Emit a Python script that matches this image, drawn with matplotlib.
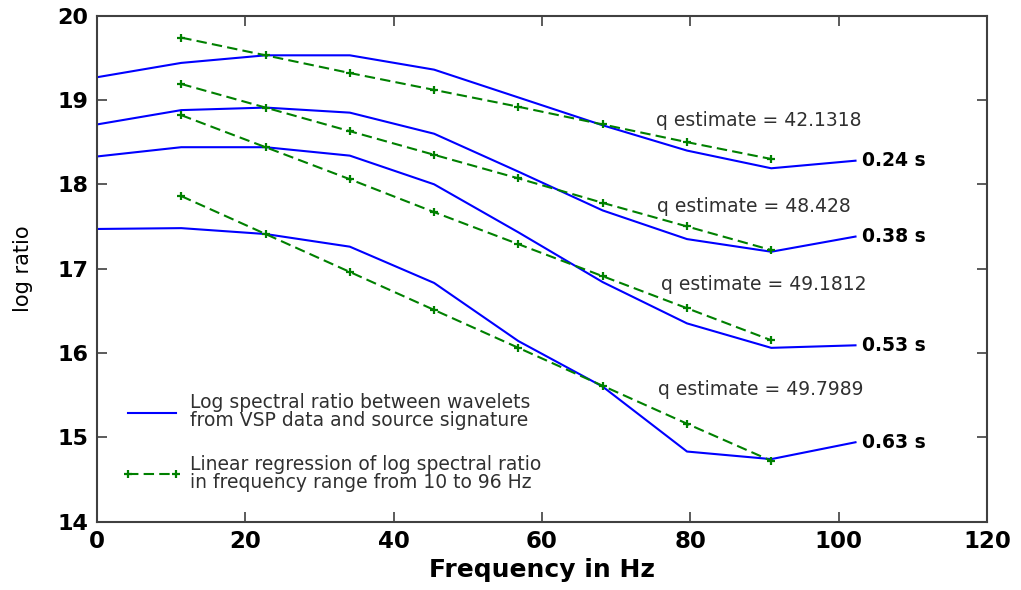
import matplotlib
matplotlib.use("Agg")
import matplotlib.pyplot as plt

# ---------------- data ----------------
freq = [0, 11.36, 22.73, 34.09, 45.45, 56.82, 68.18, 79.55, 90.91, 102.27]
fit_freq = [11.36, 22.73, 34.09, 45.45, 56.82, 68.18, 79.55, 90.91]

ratio_024 = [19.27, 19.44, 19.53, 19.53, 19.36, 19.03, 18.70, 18.40, 18.19, 18.28]
ratio_038 = [18.71, 18.88, 18.91, 18.85, 18.60, 18.15, 17.69, 17.35, 17.20, 17.38]
ratio_053 = [18.33, 18.44, 18.44, 18.34, 18.00, 17.43, 16.84, 16.35, 16.06, 16.09]
ratio_063 = [17.47, 17.48, 17.41, 17.26, 16.83, 16.14, 15.60, 14.83, 14.74, 14.94]

fit_024 = [19.74, 19.53, 19.32, 19.12, 18.92, 18.71, 18.50, 18.30]
fit_038 = [19.19, 18.91, 18.63, 18.35, 18.07, 17.78, 17.50, 17.22]
fit_053 = [18.82, 18.44, 18.06, 17.67, 17.29, 16.91, 16.53, 16.15]
fit_063 = [17.86, 17.41, 16.96, 16.51, 16.06, 15.61, 15.16, 14.72]

time_labels = ["0.24 s", "0.38 s", "0.53 s", "0.63 s"]
q_values = ["42.1318", "48.428", "49.1812", "49.7989"]

xticks = [0, 20, 40, 60, 80, 100, 120]
yticks = [14, 15, 16, 17, 18, 19, 20]

# ---------------- styling ----------------
plt.rcParams['font.family'] = ['DejaVu Sans']
BLUE = '#0000ff'
GREEN = '#008000'
AXC = '#404040'

fig = plt.figure(figsize=(10.21, 5.90), dpi=100)
ax = fig.add_axes([0.095, 0.1161, 0.8717, 0.8573])

ratios = [ratio_024, ratio_038, ratio_053, ratio_063]
fits = [fit_024, fit_038, fit_053, fit_063]
q_pos = [(75.4, 18.76), (75.55, 17.74), (76.1, 16.81), (75.6, 15.57)]

for i, (r, f) in enumerate(zip(ratios, fits)):
    ax.plot(freq, r, color=BLUE, lw=1.5,
            label=("Log spectral ratio between wavelets\nfrom VSP data and source signature" if i == 0 else None))
    ax.plot(fit_freq, f, color=GREEN, lw=1.5, dashes=(5, 2.5), marker='+',
            ms=6, mew=1.6,
            label=("Linear regression of log spectral ratio\nin frequency range from 10 to 96 Hz" if i == 0 else None))
    ax.text(freq[-1] + 0.9, r[-1], time_labels[i], fontsize=13.5, fontweight='bold',
            ha='left', va='center', color='black', clip_on=False)
    ax.text(q_pos[i][0], q_pos[i][1], "q estimate = " + q_values[i], fontsize=13.5,
            ha='left', va='center', color='#303030')

ax.set_xlim(0, 120)
ax.set_ylim(14, 20)
ax.set_xticks(xticks)
ax.set_yticks(yticks)
ax.set_xticklabels([str(v) for v in xticks], fontsize=16.5, fontweight='bold')
ax.set_yticklabels([str(v) for v in yticks], fontsize=16, fontweight='bold')
ax.tick_params(direction='in', length=7, width=1.2, color=AXC, top=True, right=True,
               pad=6)
for s in ax.spines.values():
    s.set_color(AXC)
    s.set_linewidth(1.5)

ax.set_xlabel("Frequency in Hz", fontsize=18, fontweight='bold', labelpad=4)
ax.set_ylabel("log ratio", fontsize=15, labelpad=18)

leg = ax.legend(loc='upper left', bbox_to_anchor=(122 / 1021, 1 - 393 / 590),
                bbox_transform=fig.transFigure, frameon=False, fontsize=13.5,
                handlelength=3.2, handletextpad=0.45, labelspacing=1.3,
                borderpad=0, borderaxespad=0, numpoints=2)
for t in leg.get_texts():
    t.set_linespacing(0.95)
    t.set_color('#303030')

fig.savefig("out.png", dpi=100)
